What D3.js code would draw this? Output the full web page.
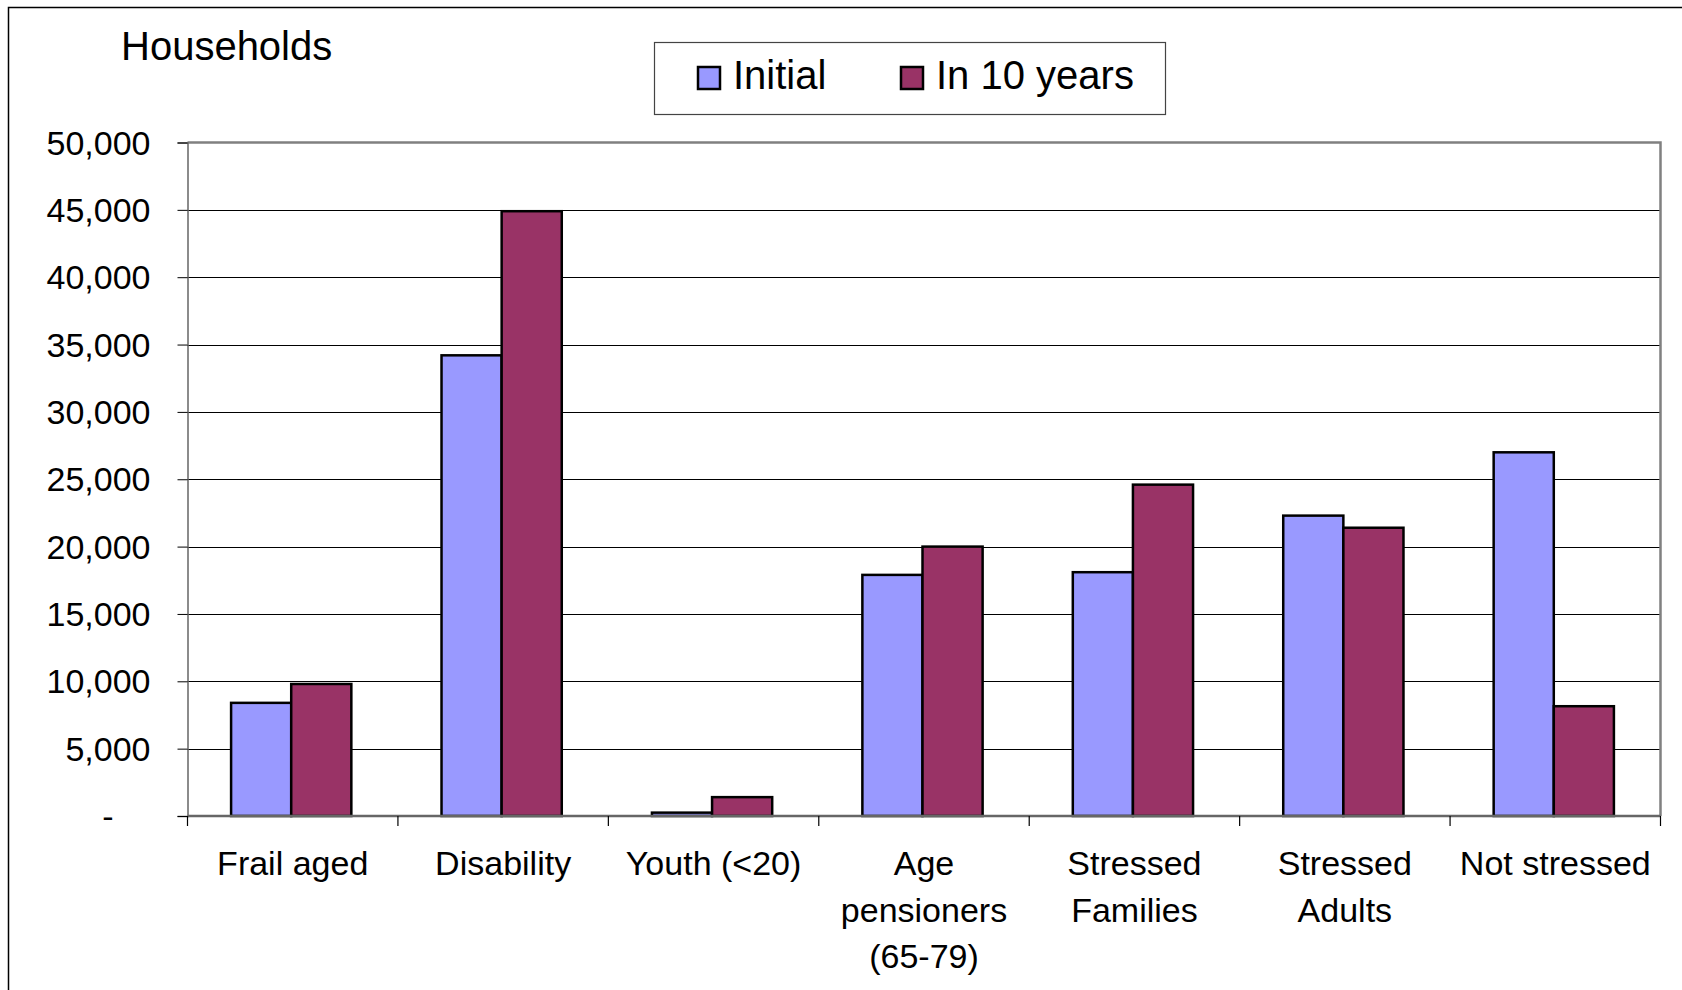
<!DOCTYPE html>
<html>
<head>
<meta charset="utf-8">
<script src="https://cdn.jsdelivr.net/npm/d3@7/dist/d3.min.js"></script>
<style>
  html, body { margin: 0; padding: 0; background: #fff; }
  svg { display: block; font-family: "Liberation Sans", Arial, sans-serif; }
</style>
</head>
<body>
<svg id="chart" width="1682" height="990"></svg>
<script>
// ---- data ----
const categories = [
  ["Frail aged"],
  ["Disability"],
  ["Youth (<20)"],
  ["Age", "pensioners", "(65-79)"],
  ["Stressed", "Families"],
  ["Stressed", "Adults"],
  ["Not stressed"]
];
const seriesNames = ["Initial", "In 10 years"];
const initialValues = [8400, 34200, 250, 17900, 18100, 22300, 27000];
const tenYearValues = [9800, 44900, 1400, 20000, 24600, 21400, 8150];
const yTicks = [0, 5000, 10000, 15000, 20000, 25000, 30000, 35000, 40000, 45000, 50000];
const colors = ["#9999FF", "#993366"];

// ---- layout ----
const svg = d3.select("#chart");
const W = 1682, H = 990;
const plot = { left: 187.5, right: 1660.5, top: 142.5, bottom: 816 };
const catKeys = categories.map((c, i) => i);

const x0 = d3.scaleBand().domain(catKeys).range([plot.left, plot.right]).padding(0);
const x1 = d3.scaleBand().domain(seriesNames).range([0, x0.bandwidth()])
  .paddingInner(0).paddingOuter(0.75);
const y = d3.scaleLinear().domain([0, 50000]).range([plot.bottom, plot.top]);

// outer frame
svg.append("rect").attr("x", 8.5).attr("y", 7.5)
  .attr("width", W + 20).attr("height", H + 20)
  .attr("fill", "#fff").attr("stroke", "#000").attr("stroke-width", 1.5);

// gridlines
svg.append("g").selectAll("line")
  .data(yTicks.filter(v => v > 0 && v < 50000))
  .join("line")
  .attr("x1", plot.left).attr("x2", plot.right)
  .attr("y1", d => Math.round(y(d)) + 0.5).attr("y2", d => Math.round(y(d)) + 0.5)
  .attr("stroke", "#000").attr("stroke-width", 1);

// bars
const seriesData = [initialValues, tenYearValues];
const groups = svg.append("g").selectAll("g")
  .data(catKeys).join("g")
  .attr("transform", d => `translate(${x0(d) - 1.5},0)`);
groups.selectAll("rect")
  .data(i => seriesNames.map((s, k) => ({ s, k, v: seriesData[k][i] })))
  .join("rect")
  .attr("x", d => x1(d.s))
  .attr("width", x1.bandwidth())
  .attr("y", d => y(d.v))
  .attr("height", d => y(0) - y(d.v))
  .attr("fill", d => colors[d.k])
  .attr("stroke", "#000").attr("stroke-width", 2.5);

// plot border (top and right)
svg.append("path")
  .attr("d", `M${plot.left},${plot.top}H${plot.right}V${plot.bottom}`)
  .attr("fill", "none").attr("stroke", "#808080").attr("stroke-width", 2.5);

// y axis
const yAxis = d3.axisLeft(y).tickValues(yTicks).tickSize(10).tickPadding(27)
  .tickFormat(d => d === 0 ? "-" : d3.format(",")(d));
const gy = svg.append("g").attr("transform", `translate(${plot.left},0)`).call(yAxis);
gy.select(".domain").attr("stroke", "#666").attr("stroke-width", 1.5);
gy.selectAll(".tick line").attr("stroke", "#000").attr("stroke-width", 1);
gy.selectAll(".tick text")
  .attr("font-size", 34).attr("fill", "#000")
  .attr("font-family", "Liberation Sans, Arial, sans-serif")
  .attr("dy", "0.34em")
  .attr("dx", d => d === 0 ? -37 : 0);

// x axis baseline and ticks
svg.append("line")
  .attr("x1", plot.left).attr("x2", plot.right)
  .attr("y1", plot.bottom).attr("y2", plot.bottom)
  .attr("stroke", "#666").attr("stroke-width", 2.5);
svg.append("g").selectAll("line")
  .data(catKeys.map(d => x0(d)).concat([plot.right]))
  .join("line")
  .attr("x1", d => d).attr("x2", d => d)
  .attr("y1", plot.bottom).attr("y2", plot.bottom + 10)
  .attr("stroke", "#000").attr("stroke-width", 1.2);

// category labels
const lab = svg.append("g").selectAll("text")
  .data(catKeys).join("text")
  .attr("x", d => x0(d) + x0.bandwidth() / 2)
  .attr("y", 875)
  .attr("text-anchor", "middle")
  .attr("font-size", 34).attr("fill", "#000");
lab.selectAll("tspan")
  .data(d => categories[d].map((t, j) => ({ t, j })))
  .join("tspan")
  .attr("x", function () { return d3.select(this.parentNode).attr("x"); })
  .attr("dy", d => d.j === 0 ? 0 : 46.5)
  .text(d => d.t);

// y axis title
svg.append("text").attr("x", 121).attr("y", 60)
  .attr("font-size", 40).attr("fill", "#000").text("Households");

// legend
const leg = svg.append("g");
leg.append("rect").attr("x", 654.5).attr("y", 42.5).attr("width", 511).attr("height", 72)
  .attr("fill", "#fff").attr("stroke", "#444").attr("stroke-width", 1.2);
const legX = [698, 901];
seriesNames.forEach((s, k) => {
  leg.append("rect").attr("x", legX[k]).attr("y", 67).attr("width", 22).attr("height", 22)
    .attr("fill", colors[k]).attr("stroke", "#000").attr("stroke-width", 2.5);
  leg.append("text").attr("x", legX[k] + 35).attr("y", 89)
    .attr("font-size", 40).attr("fill", "#000").text(s);
});
</script>
</body>
</html>
